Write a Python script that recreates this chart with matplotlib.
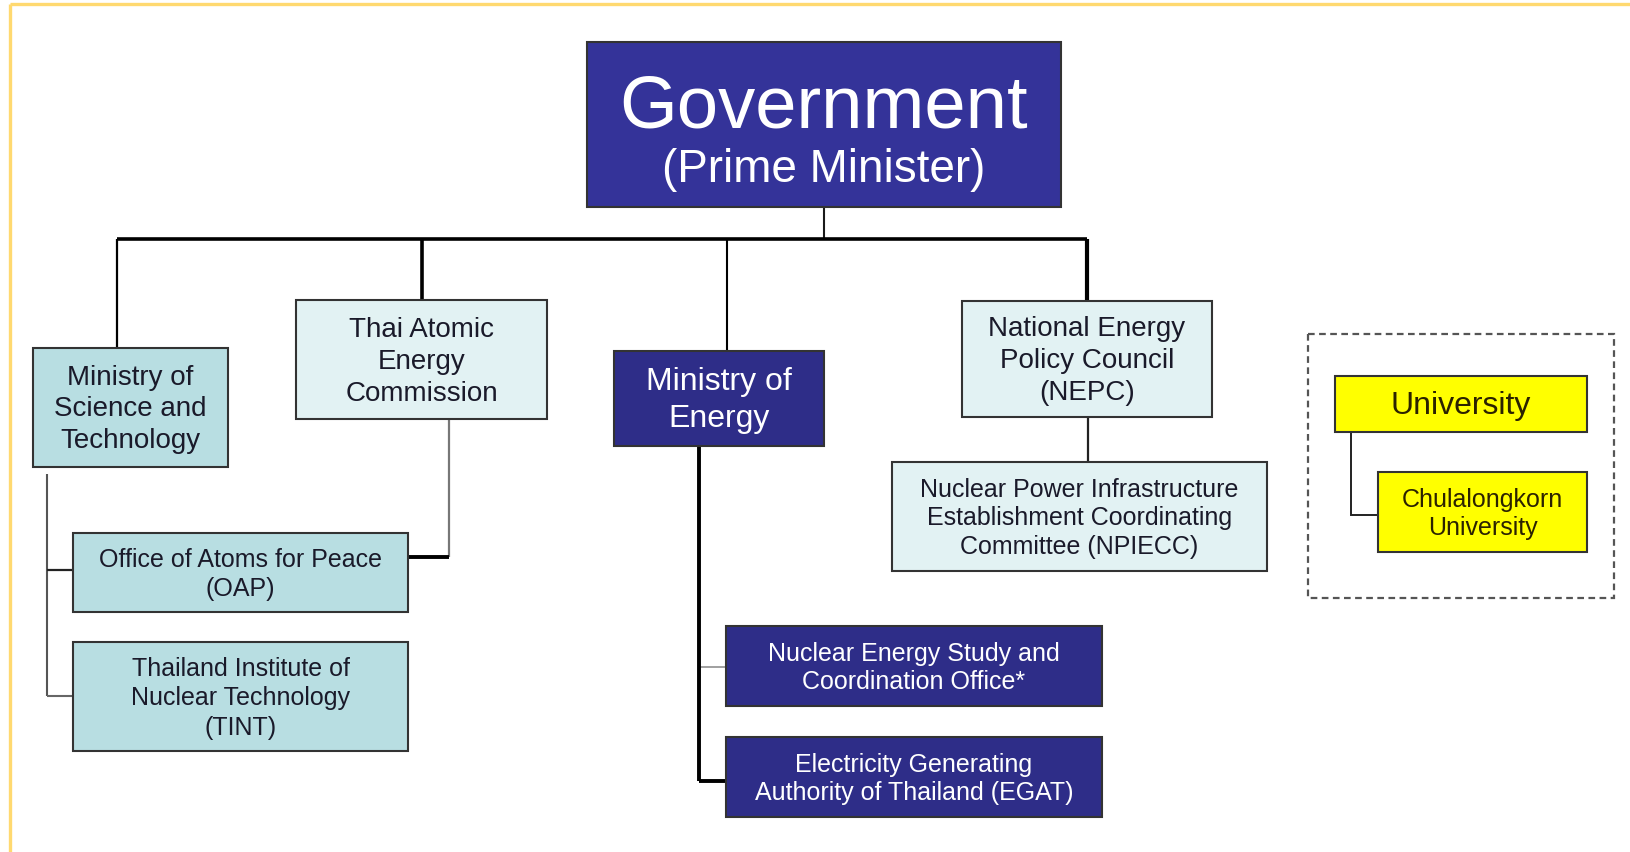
import matplotlib.pyplot as plt
from matplotlib.patches import Rectangle

# org chart content
node_ids = ["gov", "most", "taec", "moe", "nepc", "oap", "tint", "nesco", "egat", "npiecc", "uni", "chula"]
node_labels = [
    "Government",
    "Ministry of\nScience and\nTechnology",
    "Thai Atomic\nEnergy\nCommission",
    "Ministry of\nEnergy",
    "National Energy\nPolicy Council\n(NEPC)",
    "Office of Atoms for Peace\n(OAP)",
    "Thailand Institute of\nNuclear Technology\n(TINT)",
    "Nuclear Energy Study and\nCoordination Office*",
    "Electricity Generating\nAuthority of Thailand (EGAT)",
    "Nuclear Power Infrastructure\nEstablishment Coordinating\nCommittee (NPIECC)",
    "University",
    "Chulalongkorn\nUniversity",
]
gov_subtitle = "(Prime Minister)"

NAVY = "#2e2d88"
GOV_NAVY = "#343399"
TEAL = "#b8dee2"
PALE = "#e2f2f3"
YELLOW = "#ffff00"

# layout in pixel space: x0, y0, x1, y1, fill, text colour, font size, line spacing
layout = {
    "gov": (587, 43, 1061, 208, GOV_NAVY, "white", 53.5, 1.0),
    "most": (33, 349, 228, 468, TEAL, "#1a1a2a", 20, 1.29),
    "taec": (296, 301, 547, 420, PALE, "#1a1a2a", 20, 1.3),
    "moe": (614, 352, 824, 447, NAVY, "white", 23, 1.33),
    "nepc": (962, 302, 1212, 418, PALE, "#1a1a2a", 20, 1.3),
    "oap": (73, 534, 408, 613, TEAL, "#1a1a2a", 18, 1.26),
    "tint": (73, 643, 408, 752, TEAL, "#1a1a2a", 18, 1.3),
    "nesco": (726, 627, 1102, 707, NAVY, "white", 18, 1.2),
    "egat": (726, 738, 1102, 818, NAVY, "white", 18, 1.2),
    "npiecc": (892, 463, 1267, 572, PALE, "#1a1a2a", 18, 1.25),
    "uni": (1335, 377, 1587, 433, YELLOW, "#2b2200", 23, 1.2),
    "chula": (1378, 473, 1587, 553, YELLOW, "#2b2200", 18, 1.2),
}

W, H = 1630, 853
fig = plt.figure(figsize=(W / 100, H / 100), dpi=100)
ax = fig.add_axes([0, 0, 1, 1])
ax.set_xlim(0, W)
ax.set_ylim(H, 0)
ax.axis("off")
plt.rcParams["font.family"] = ["Liberation Sans", "DejaVu Sans"]

box = {k: layout[k][:4] for k in layout}


def line(xs, ys, lw=1.5, color="#1a1a1a", z=1):
    ax.plot(xs, ys, color=color, lw=lw, solid_capstyle="butt", solid_joinstyle="miter", zorder=z)


# yellow slide frame (right and bottom fall outside the picture)
line([10, W], [5, 5], lw=2.4, color="#ffd970")
line([10, 10], [5, H], lw=2.4, color="#ffd970")

# top level: government -> bus -> ministries
bus_y = 240
gov = box["gov"]
line([(gov[0] + gov[2]) / 2, (gov[0] + gov[2]) / 2], [gov[3], bus_y], lw=1.5)
drops = {"most": (117, 1.6), "taec": (422, 2.6), "moe": (727, 1.5), "nepc": (1087, 3.0)}
line([drops["most"][0], drops["nepc"][0]], [bus_y, bus_y], lw=2.6, color="black")
for key, (dx, lw) in drops.items():
    line([dx, dx], [bus_y, box[key][1]], lw=lw, color="black")

# ministry of science and technology rail
rail_x = 47
oap, tint = box["oap"], box["tint"]
line([rail_x, rail_x], [box["most"][3] + 7, 697], lw=1.5, color="#555555")
line([rail_x, oap[0]], [571, 571], lw=1.6, color="#222222")
line([rail_x, tint[0]], [697, 697], lw=1.5, color="#666666")

# atomic energy commission -> OAP
taec_x = 449
line([taec_x, taec_x], [box["taec"][3], 558], lw=1.6, color="#777777")
line([oap[2], taec_x], [558, 558], lw=2.8, color="black")

# ministry of energy rail
moe_x = 699
nesco, egat = box["nesco"], box["egat"]
line([moe_x, moe_x], [box["moe"][3], 782], lw=2.8, color="black", z=2)
line([moe_x, egat[0]], [782, 782], lw=2.8, color="black", z=2)
line([moe_x, nesco[0]], [668, 668], lw=1.4, color="#a0a0a0")

# NEPC -> NPIECC
nepc = box["nepc"]
line([1088, 1088], [nepc[3], box["npiecc"][1]], lw=1.6, color="#222222")

# university -> chulalongkorn
uni, chula = box["uni"], box["chula"]
line([1351, 1351, chula[0]], [uni[3], 516, 516], lw=1.4, color="#222222")

# dashed group around the university boxes
ax.add_patch(Rectangle((1308, 335), 306, 264, fill=False, ls=(0, (3, 2)),
                       lw=1.6, edgecolor="#555555", zorder=1))

for key, label in zip(node_ids, node_labels):
    x0, y0, x1, y1, fill, tcolor, size, spacing = layout[key]
    ax.add_patch(Rectangle((x0, y0), x1 - x0, y1 - y0, facecolor=fill,
                           edgecolor="#333333", lw=1.5, zorder=3))
    if key == "gov":
        ax.text((x0 + x1) / 2, 127, label, color=tcolor, fontsize=size,
                ha="center", va="baseline", zorder=4)
        ax.text((x0 + x1) / 2, 182, gov_subtitle, color=tcolor, fontsize=33,
                ha="center", va="baseline", zorder=4)
        continue
    ax.text((x0 + x1) / 2, (y0 + y1) / 2 + 1, label, color=tcolor, fontsize=size,
            ha="center", va="center", linespacing=spacing, zorder=4)

fig.savefig("out.png", dpi=100, facecolor="white")
